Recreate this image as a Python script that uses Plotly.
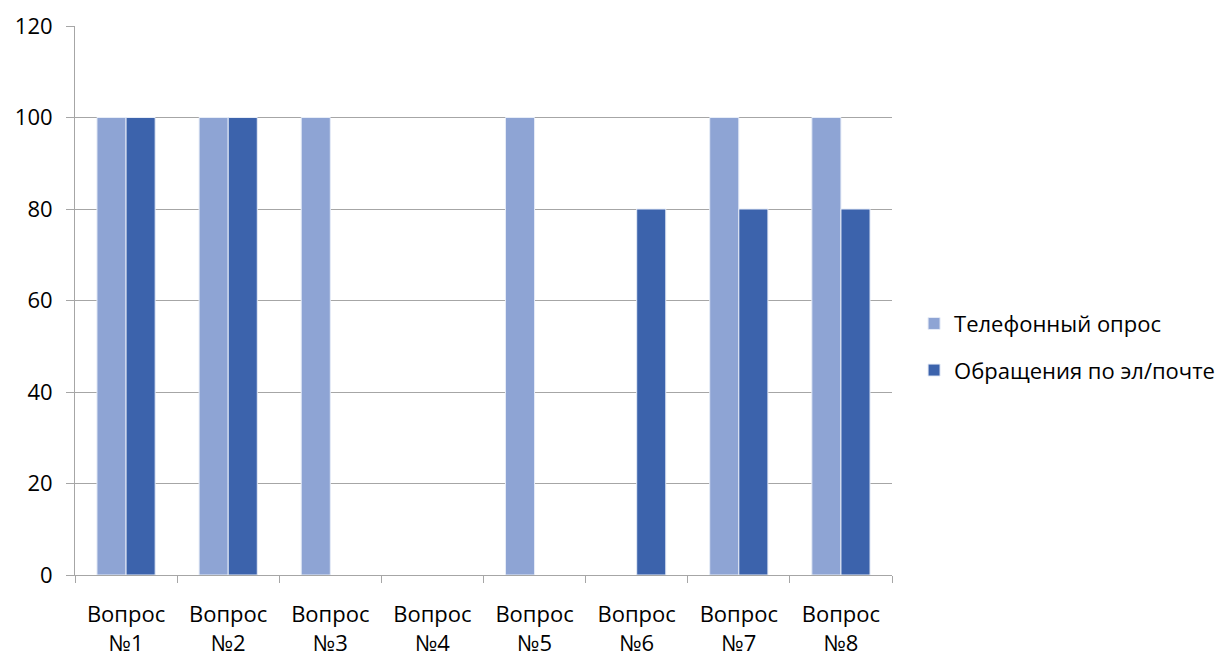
import plotly.graph_objects as go

categories = ["Вопрос<br>№1", "Вопрос<br>№2", "Вопрос<br>№3", "Вопрос<br>№4",
              "Вопрос<br>№5", "Вопрос<br>№6", "Вопрос<br>№7", "Вопрос<br>№8"]
phone_survey = [100, 100, 100, 0, 100, 0, 100, 100]
email_requests = [100, 100, 0, 0, 0, 80, 80, 80]
y_ticks = [0, 20, 40, 60, 80, 100, 120]

FONT = "Open Sans, Noto Sans, sans-serif"


def outline_widths(values):
    # no outline on empty bars so the axis line stays clean
    return [1 if v else 0 for v in values]


fig = go.Figure()
fig.add_trace(go.Bar(
    x=categories, y=phone_survey, name="Телефонный опрос",
    marker=dict(color="#8EA4D4",
                line=dict(color="#E6ECF7", width=outline_widths(phone_survey))),
    legendgroup="a",
))
fig.add_trace(go.Bar(
    x=categories, y=email_requests, name="Обращения по эл/почте",
    marker=dict(color="#3C63AC",
                line=dict(color="#E6ECF7", width=outline_widths(email_requests))),
    legendgroup="b",
))

fig.update_layout(
    width=1230, height=656,
    margin=dict(l=75, r=338, t=26, b=81, autoexpand=False),
    paper_bgcolor="white", plot_bgcolor="white",
    barmode="group", bargap=0.43, bargroupgap=0,
    font=dict(family=FONT, size=22, color="black"),
    legend=dict(
        x=1.027, y=0.415, xanchor="left", yanchor="middle",
        font=dict(size=22), traceorder="grouped", tracegroupgap=15,
        itemwidth=30, bgcolor="rgba(0,0,0,0)",
    ),
    xaxis=dict(
        type="category", tickson="boundaries", automargin=False,
        showline=True, linecolor="#A6A6A6", linewidth=1,
        ticks="outside", ticklen=7, tickcolor="#A6A6A6",
        showgrid=False, tickfont=dict(size=22), ticklabelstandoff=20,
    ),
    yaxis=dict(
        range=[0, 120], tickvals=y_ticks, automargin=False,
        showline=True, linecolor="#A6A6A6", linewidth=1,
        ticks="outside", ticklen=8, tickcolor="#A6A6A6",
        showgrid=True, gridcolor="#A6A6A6", gridwidth=1,
        zeroline=False, tickfont=dict(size=22), ticklabelstandoff=9,
    ),
)

fig.write_html("out.html")
